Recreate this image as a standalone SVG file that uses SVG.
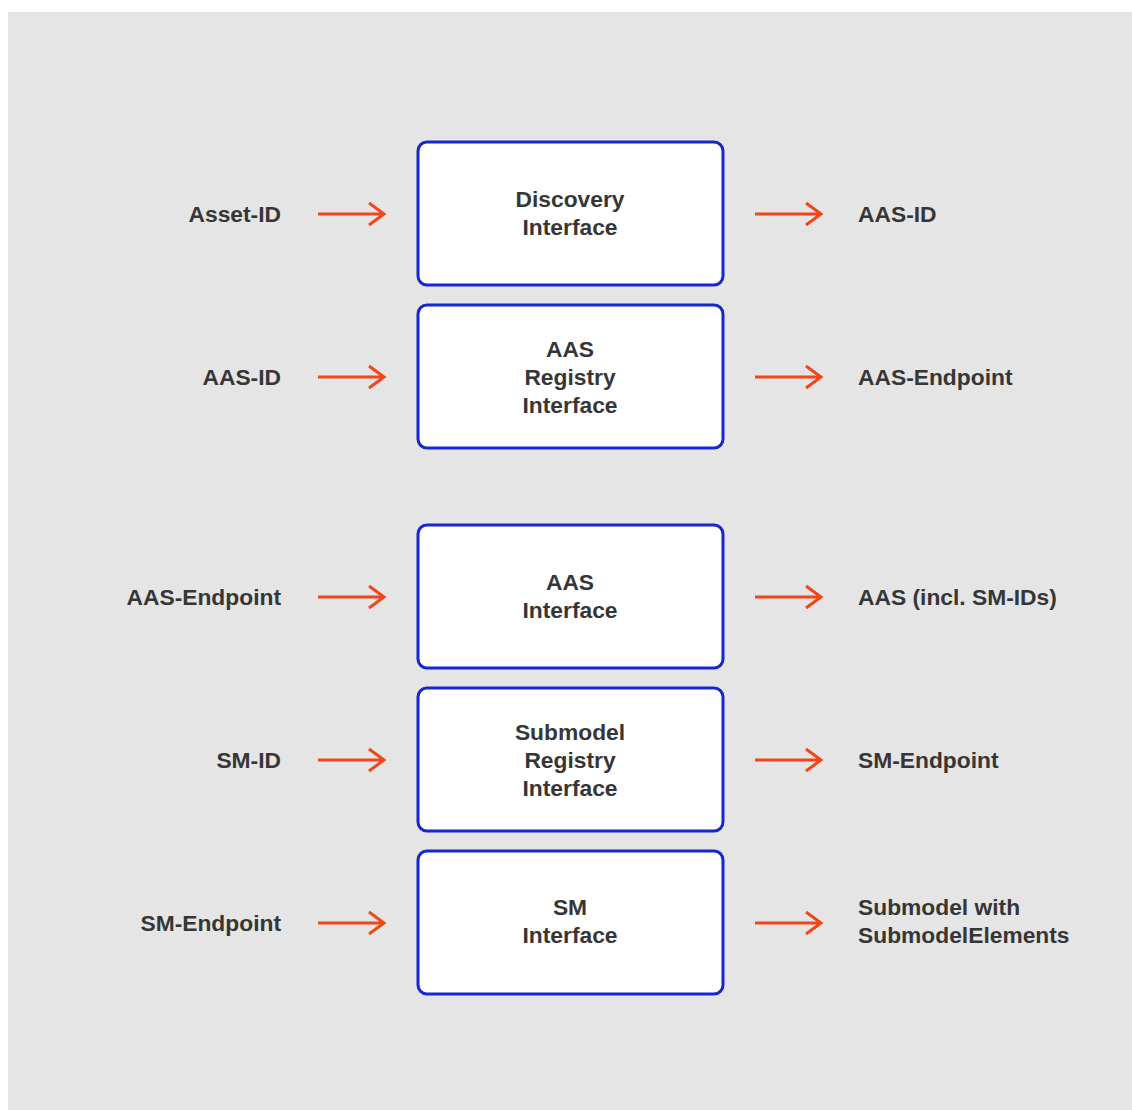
<svg xmlns="http://www.w3.org/2000/svg" width="1132" height="1110" viewBox="0 0 1132 1110">
<style>
.bg{fill:#e5e5e5}
.box{fill:#ffffff;stroke:#1626d0;stroke-width:3}
.t{font-family:"Liberation Sans",Arial,sans-serif;font-weight:bold;font-size:22.8px;fill:#363636}
.c{text-anchor:middle}
.r{text-anchor:end}
.arr{fill:none;stroke:#f2461a;stroke-width:3;stroke-linecap:butt;stroke-linejoin:miter}
</style>
<defs>
<g id="arrow"><path class="arr" d="M0 0H66M51 -11L66 0L51 11"/></g>
</defs>
<rect width="1132" height="1110" fill="#ffffff"/>
<rect class="bg" x="8" y="12" width="1124" height="1098"/>
<g id="connectors">
<use href="#arrow" x="318" y="214"/>
<use href="#arrow" x="755" y="214"/>
<use href="#arrow" x="318" y="377"/>
<use href="#arrow" x="755" y="377"/>
<use href="#arrow" x="318" y="597"/>
<use href="#arrow" x="755" y="597"/>
<use href="#arrow" x="318" y="760"/>
<use href="#arrow" x="755" y="760"/>
<use href="#arrow" x="318" y="923"/>
<use href="#arrow" x="755" y="923"/>
</g>
<g id="discovery">
<rect class="box" x="418" y="142" width="305" height="143" rx="9"/>
<text class="t c" x="570" y="207">Discovery</text>
<text class="t c" x="570" y="235">Interface</text>
</g>
<g id="aas-registry">
<rect class="box" x="418" y="305" width="305" height="143" rx="9"/>
<text class="t c" x="570" y="357">AAS</text>
<text class="t c" x="570" y="385">Registry</text>
<text class="t c" x="570" y="413">Interface</text>
</g>
<g id="aas-interface">
<rect class="box" x="418" y="525" width="305" height="143" rx="9"/>
<text class="t c" x="570" y="590">AAS</text>
<text class="t c" x="570" y="618">Interface</text>
</g>
<g id="sm-registry">
<rect class="box" x="418" y="688" width="305" height="143" rx="9"/>
<text class="t c" x="570" y="740">Submodel</text>
<text class="t c" x="570" y="768">Registry</text>
<text class="t c" x="570" y="796">Interface</text>
</g>
<g id="sm-interface">
<rect class="box" x="418" y="851" width="305" height="143" rx="9"/>
<text class="t c" x="570" y="915">SM</text>
<text class="t c" x="570" y="943">Interface</text>
</g>
<g id="labels">
<text class="t r" x="281" y="222">Asset-ID</text>
<text class="t" x="858" y="222">AAS-ID</text>
<text class="t r" x="281" y="385">AAS-ID</text>
<text class="t" x="858" y="385">AAS-Endpoint</text>
<text class="t r" x="281" y="605">AAS-Endpoint</text>
<text class="t" x="858" y="605">AAS (incl. SM-IDs)</text>
<text class="t r" x="281" y="768">SM-ID</text>
<text class="t" x="858" y="768">SM-Endpoint</text>
<text class="t r" x="281" y="931">SM-Endpoint</text>
<text class="t" x="858" y="915">Submodel with</text>
<text class="t" x="858" y="943">SubmodelElements</text>
</g>
</svg>
